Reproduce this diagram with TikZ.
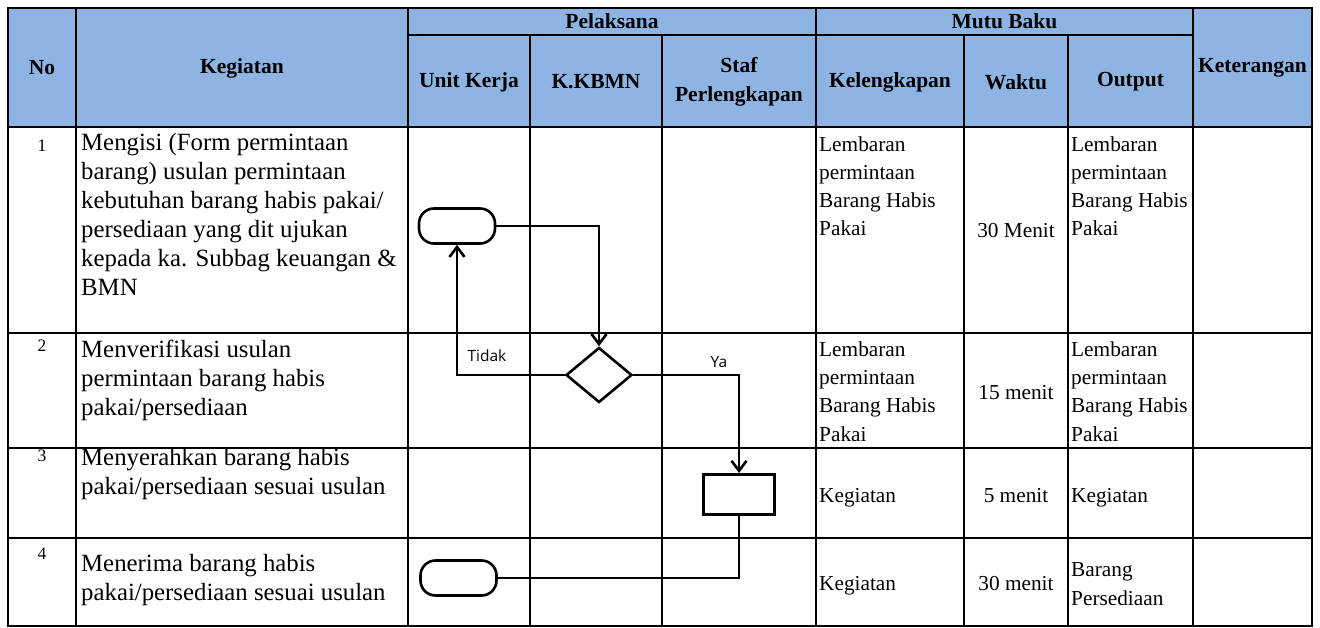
\documentclass[tikz,border=0pt]{standalone}
\usepackage{fontspec}
\setmainfont{Liberation Serif}
\newfontfamily\flowfont{Open Sans}
\usepackage{xcolor}
\usetikzlibrary{arrows.meta,shapes.geometric}
\definecolor{headblue}{RGB}{141,180,226}

\begin{document}
\begin{tikzpicture}[
  x=1pt, y=-1pt,
  grid/.style={line width=1.8pt},
  headtxt/.style={font=\fontsize{21.5}{29}\selectfont\bfseries, align=center, inner sep=0pt},
  acttxt/.style={font=\fontsize{24.8}{29}\selectfont, align=left, anchor=base west, inner sep=0pt},
  celltxt/.style={font=\fontsize{21.3}{28.3}\selectfont, align=left, anchor=base west, inner sep=0pt},
  numtxt/.style={font=\fontsize{17.5}{18}\selectfont, anchor=base, inner sep=0pt},
  timetxt/.style={font=\fontsize{21.3}{28.3}\selectfont, anchor=base, inner sep=0pt},
  terminal/.style={draw, line width=2.6pt, rounded corners=15pt, minimum width=76pt, minimum height=35pt},
  decision/.style={draw, diamond, line width=2.6pt, aspect=1.2, minimum width=66pt, minimum height=55pt, inner sep=0pt},
  process/.style={draw, line width=3pt, minimum width=71pt, minimum height=40pt},
  flow/.style={line width=1.2pt},
  arrow/.style={flow, -{Straight Barb[length=10pt, width=15pt, line width=2.6pt]}},
  guard/.style={font=\flowfont\fontsize{15.5}{17}\selectfont, inner sep=0pt}
]
\useasboundingbox (0,0) rectangle (1320,628);
\fill[headblue] (8,8) rectangle (1312,127);

\draw[grid] (8,8) rectangle (1312,626);
\draw[grid] (8,127) -- (1312,127);
\draw[grid] (8,333) -- (1312,333);
\draw[grid] (8,448) -- (1312,448);
\draw[grid] (8,538) -- (1312,538);
\draw[grid] (408,35) -- (1193,35);
\foreach \cx in {76,408,816,1193}
  \draw[grid] (\cx,8) -- (\cx,626);
\foreach \cx in {530,662,964,1068}
  \draw[grid] (\cx,35) -- (\cx,626);

\node[headtxt] (hno) at (42,68) {No};
\node[headtxt] (hkeg) at (242,68) {Kegiatan};
\node[headtxt] (hpel) at (612,21.5) {Pelaksana};
\node[headtxt] (hunit) at (469,82) {Unit Kerja};
\node[headtxt] (hkbmn) at (596,82) {K.KBMN};
\node[headtxt] (hstaf) at (739,82) {Staf\\Perlengkapan};
\node[headtxt] (hmutu) at (1004.5,21.5) {Mutu Baku};
\node[headtxt] (hkel) at (890,82) {Kelengkapan};
\node[headtxt] (hwkt) at (1016,82) {Waktu};
\node[headtxt] (hout) at (1130.5,82) {Output};
\node[headtxt] (hket) at (1252.5,68) {Keterangan};

\node[numtxt] (n1) at (42,152) {1};
\node[numtxt] (n2) at (42,352) {2};
\node[numtxt] (n3) at (42,461) {3};
\node[numtxt] (n4) at (42,559) {4};

\node[acttxt] (k1) at (81,296) {Mengisi (Form permintaan\\barang) usulan permintaan\\kebutuhan barang habis pakai/\\persediaan yang dit ujukan\\kepada ka. Subbag keuangan \&\\BMN};
\node[acttxt] (k2) at (81,415) {Menverifikasi usulan\\permintaan barang habis\\pakai/persediaan};
\node[acttxt] (k3) at (81,494) {Menyerahkan barang habis\\pakai/persediaan sesuai usulan};
\node[acttxt] (k4) at (81,600) {Menerima barang habis\\pakai/persediaan sesuai usulan};

\node[celltxt] (l1) at (819,236) {Lembaran\\permintaan\\Barang Habis\\Pakai};
\node[celltxt] (l2) at (819,441) {Lembaran\\permintaan\\Barang Habis\\Pakai};
\node[celltxt] (l3) at (819,502) {Kegiatan};
\node[celltxt] (l4) at (819,590) {Kegiatan};

\node[timetxt] (w1) at (1016,238) {30 Menit};
\node[timetxt] (w2) at (1016,399) {15 menit};
\node[timetxt] (w3) at (1016,502) {5 menit};
\node[timetxt] (w4) at (1016,590) {30 menit};

\node[celltxt] (o1) at (1071,236) {Lembaran\\permintaan\\Barang Habis\\Pakai};
\node[celltxt] (o2) at (1071,441) {Lembaran\\permintaan\\Barang Habis\\Pakai};
\node[celltxt] (o3) at (1071,502) {Kegiatan};
\node[celltxt] (o4) at (1071,605) {Barang\\Persediaan};

\node[terminal] (mulai) at (457,226) {};
\node[decision] (cek) at (599,375) {};
\node[process] (serah) at (739,494.5) {};
\node[terminal] (terima) at (458.5,578) {};

\draw[arrow] (mulai.east) -| (cek.north);
\draw[arrow] (cek.west) -| (mulai.south);
\draw[arrow] (cek.east) -| (serah.north);
\draw[flow] (serah.south) |- (terima.east);

\node[guard] (tidak) at (487,356) {Tidak};
\node[guard] (ya) at (719,362) {Ya};
\end{tikzpicture}
\end{document}
